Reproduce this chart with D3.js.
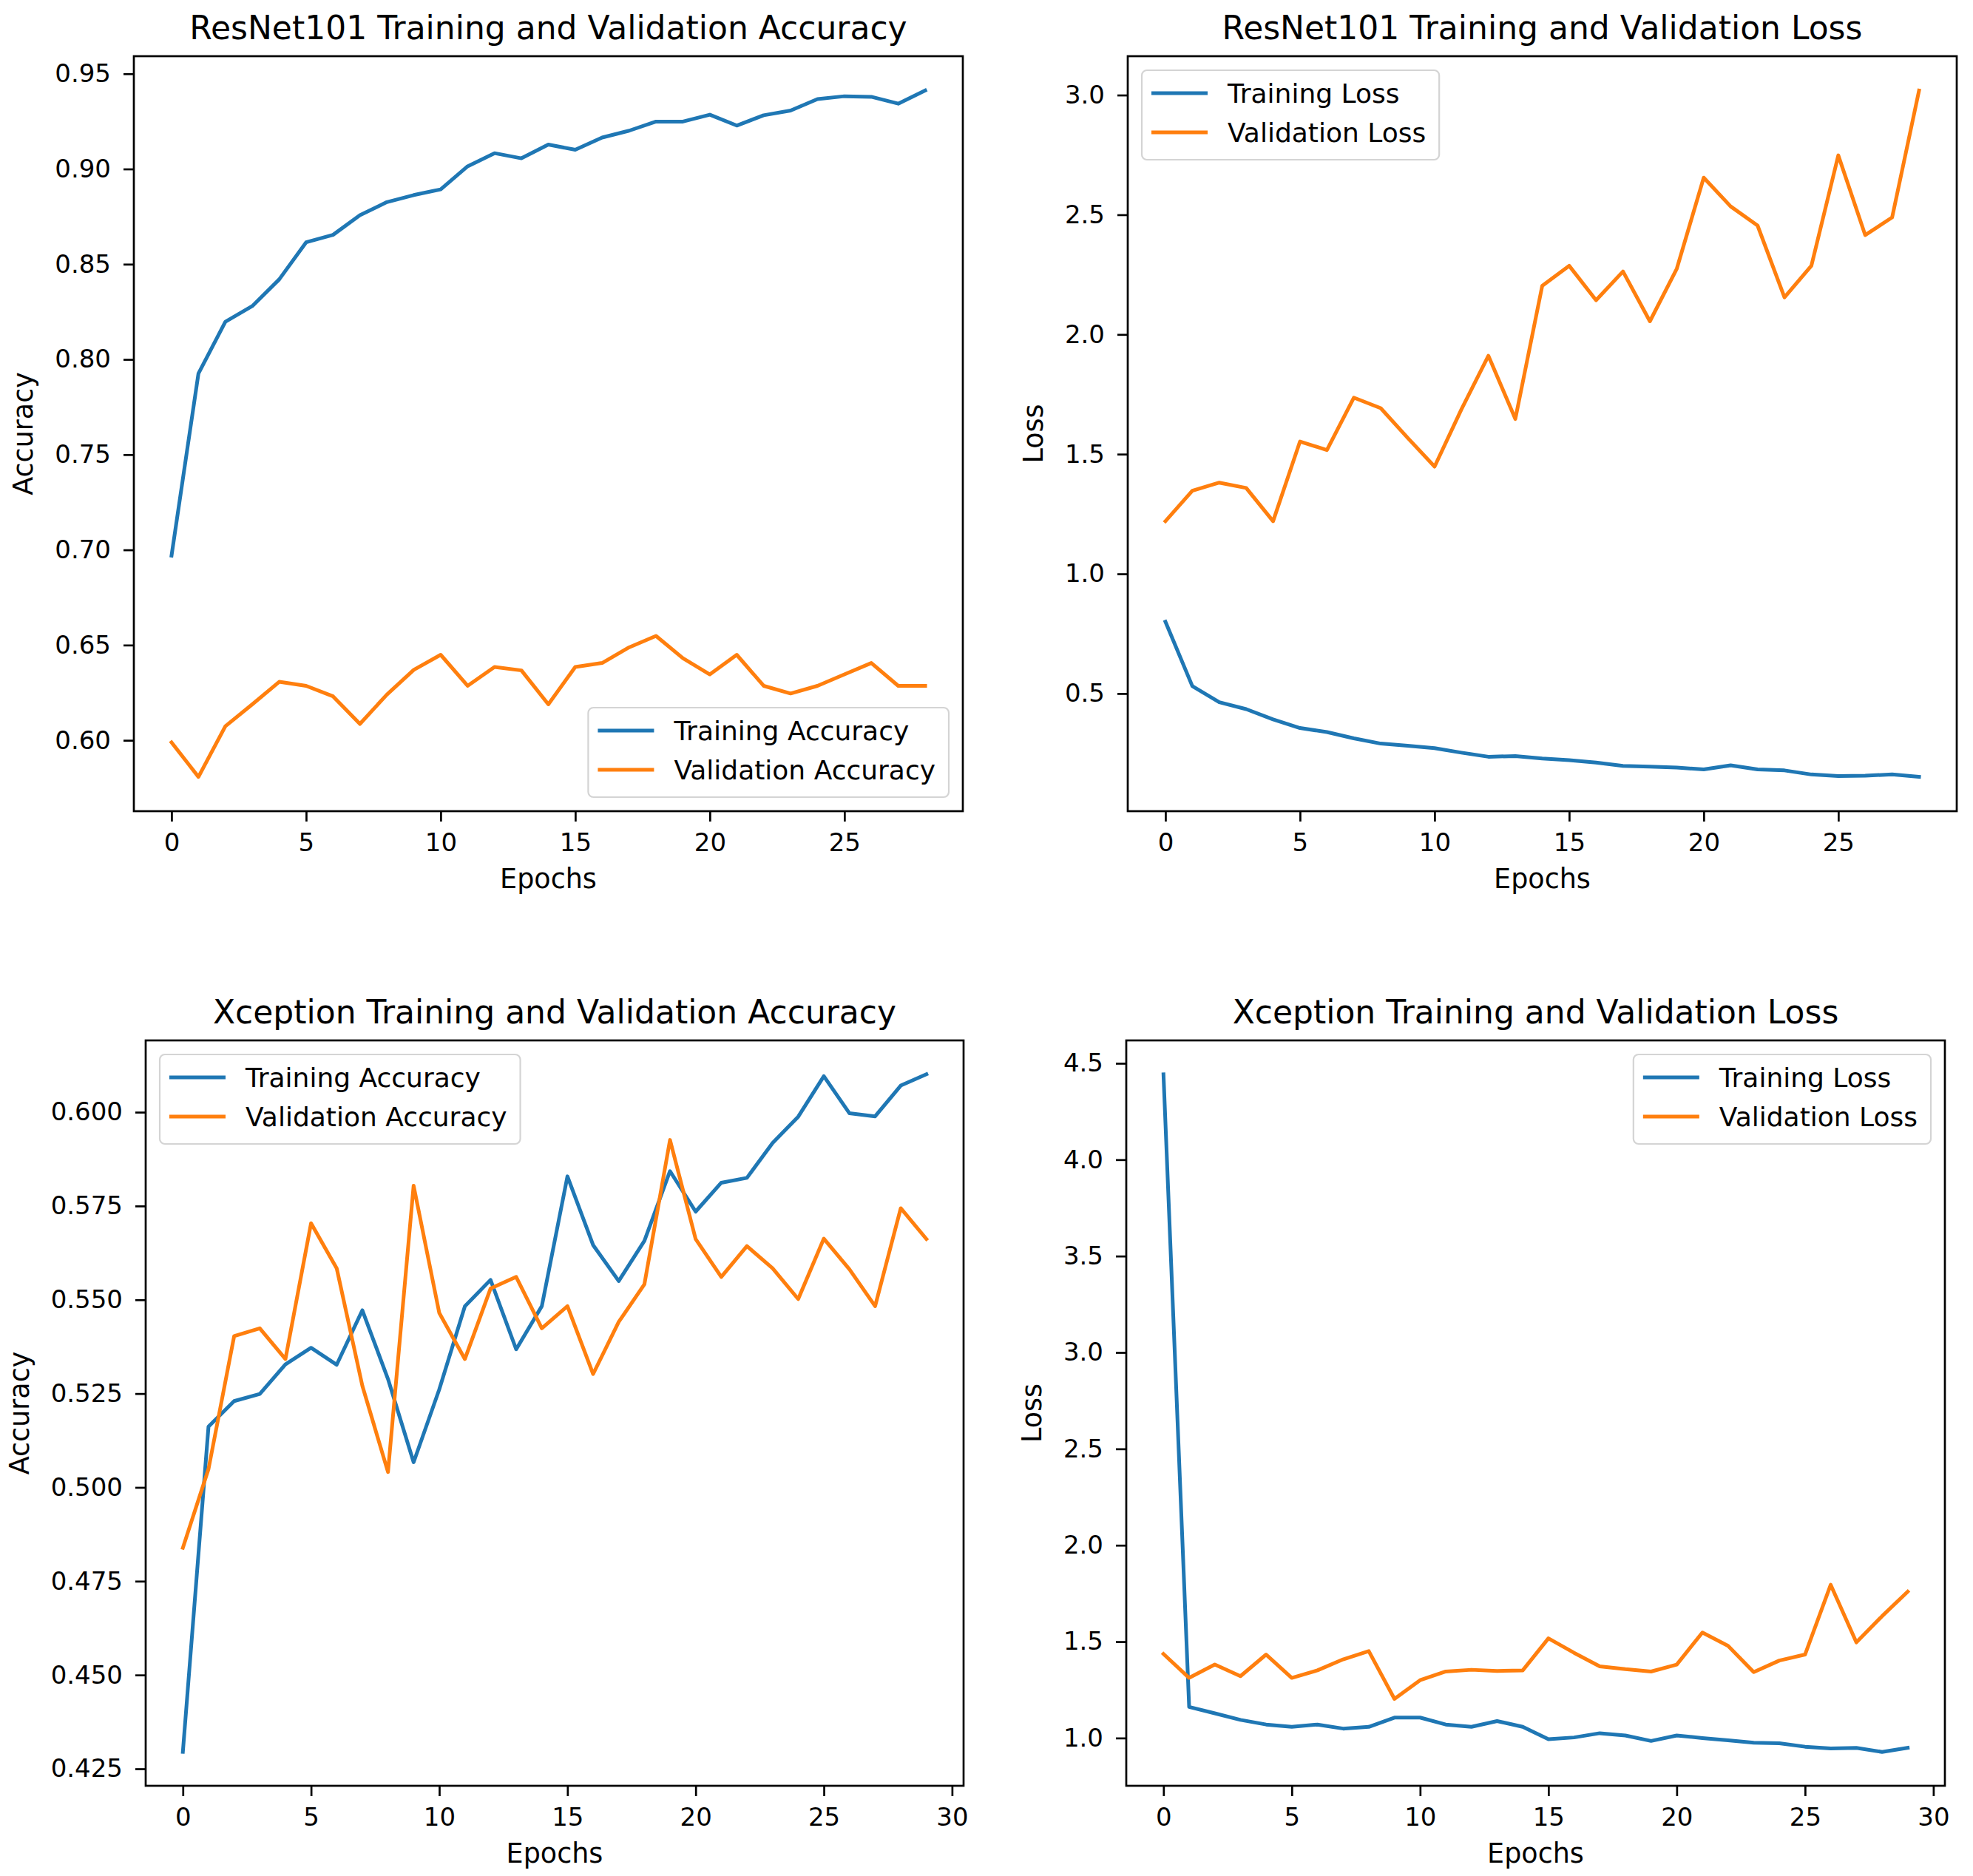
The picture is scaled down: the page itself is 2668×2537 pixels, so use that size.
<!DOCTYPE html>
<html>
<head>
<meta charset="UTF-8">
<title>ResNet101 / Xception training curves</title>
<style>
  body { margin: 0; background: #fff; }
  svg text { font-family: "DejaVu Sans", sans-serif; fill: #000; }
</style>
</head>
<body>
<script src="https://cdnjs.cloudflare.com/ajax/libs/d3/7.8.5/d3.min.js"></script>
<script>
// ---- data ----
var resnetEpochs = [0,1,2,3,4,5,6,7,8,9,10,11,12,13,14,15,16,17,18,19,20,21,22,23,24,25,26,27,28];
var resnetTrainAcc = [0.697,0.7926,0.8198,0.828,0.842,0.8615,0.8654,0.8757,0.8826,0.8863,0.8893,0.9014,0.9083,0.9056,0.9128,0.9101,0.9165,0.9201,0.9249,0.9249,0.9285,0.9228,0.9282,0.9307,0.9367,0.9382,0.9379,0.9343,0.9412];
var resnetValAcc = [0.5989,0.5808,0.6074,0.6189,0.6307,0.6286,0.6231,0.6086,0.624,0.637,0.6449,0.6286,0.6385,0.6367,0.6189,0.6385,0.6406,0.6488,0.6548,0.6431,0.6346,0.6449,0.6286,0.6246,0.6286,0.6346,0.6406,0.6286,0.6286];
var resnetTrainLoss = [0.80,0.531,0.464,0.435,0.392,0.356,0.339,0.313,0.291,0.282,0.272,0.253,0.236,0.239,0.229,0.222,0.212,0.198,0.195,0.191,0.183,0.200,0.183,0.179,0.162,0.155,0.157,0.162,0.152];
var resnetValLoss = [1.220,1.347,1.381,1.359,1.220,1.553,1.517,1.736,1.692,1.568,1.448,1.688,1.911,1.647,2.203,2.287,2.143,2.263,2.055,2.275,2.655,2.535,2.455,2.155,2.287,2.748,2.415,2.489,3.019];

var xceptionEpochs = [0,1,2,3,4,5,6,7,8,9,10,11,12,13,14,15,16,17,18,19,20,21,22,23,24,25,26,27,28,29];
var xceptionTrainAcc = [0.4295,0.5162,0.523,0.5249,0.5328,0.5372,0.5327,0.5472,0.5289,0.5067,0.5261,0.5483,0.5553,0.5368,0.5483,0.5829,0.5646,0.555,0.5657,0.5843,0.5735,0.5812,0.5825,0.5918,0.5988,0.6096,0.5997,0.5989,0.6071,0.6101];
var xceptionValAcc = [0.4839,0.5049,0.5403,0.5424,0.5342,0.5704,0.5584,0.5271,0.5041,0.5804,0.5465,0.5342,0.553,0.5561,0.5424,0.5483,0.5302,0.5441,0.5541,0.5926,0.5662,0.5561,0.5643,0.5584,0.5502,0.5663,0.5581,0.5483,0.5744,0.5662];
var xceptionTrainLoss = [4.443,1.161,1.128,1.094,1.070,1.058,1.070,1.049,1.058,1.106,1.106,1.070,1.058,1.088,1.058,0.994,1.003,1.025,1.013,0.985,1.013,1.0,0.988,0.976,0.973,0.955,0.946,0.949,0.928,0.949];
var xceptionValLoss = [1.436,1.312,1.381,1.321,1.433,1.312,1.351,1.408,1.451,1.203,1.300,1.345,1.354,1.348,1.351,1.517,1.442,1.372,1.357,1.345,1.381,1.547,1.478,1.342,1.402,1.433,1.795,1.496,1.632,1.759];

// tick labels
var resnetXTicks = [0,5,10,15,20,25];
var xceptionXTicks = [0,5,10,15,20,25,30];
var resnetAccTicks = [0.60,0.65,0.70,0.75,0.80,0.85,0.90,0.95];
var resnetLossTicks = [0.5,1.0,1.5,2.0,2.5,3.0];
var xceptionAccTicks = [0.425,0.450,0.475,0.500,0.525,0.550,0.575,0.600];
var xceptionLossTicks = [1.0,1.5,2.0,2.5,3.0,3.5,4.0,4.5];

var blue = "#1f77b4", orange = "#ff7f0e";

var width = 2668, height = 2537;
var svg = d3.select("body").append("svg")
  .attr("width", width).attr("height", height)
  .style("display", "block");

var panels = [
  { title: "ResNet101 Training and Validation Accuracy", ylabel: "Accuracy",
    epochs: resnetEpochs, train: resnetTrainAcc, val: resnetValAcc,
    names: ["Training Accuracy", "Validation Accuracy"],
    xTicks: resnetXTicks, yTicks: resnetAccTicks, fmt: ".2f", legend: "lower right",
    box: { left: 181, right: 1302, top: 76, bottom: 1097 } },
  { title: "ResNet101 Training and Validation Loss", ylabel: "Loss",
    epochs: resnetEpochs, train: resnetTrainLoss, val: resnetValLoss,
    names: ["Training Loss", "Validation Loss"],
    xTicks: resnetXTicks, yTicks: resnetLossTicks, fmt: ".1f", legend: "upper left",
    box: { left: 1525, right: 2646, top: 76, bottom: 1097 } },
  { title: "Xception Training and Validation Accuracy", ylabel: "Accuracy",
    epochs: xceptionEpochs, train: xceptionTrainAcc, val: xceptionValAcc,
    names: ["Training Accuracy", "Validation Accuracy"],
    xTicks: xceptionXTicks, yTicks: xceptionAccTicks, fmt: ".3f", legend: "upper left",
    box: { left: 197, right: 1303, top: 1407, bottom: 2415 } },
  { title: "Xception Training and Validation Loss", ylabel: "Loss",
    epochs: xceptionEpochs, train: xceptionTrainLoss, val: xceptionValLoss,
    names: ["Training Loss", "Validation Loss"],
    xTicks: xceptionXTicks, yTicks: xceptionLossTicks, fmt: ".1f", legend: "upper right",
    box: { left: 1523, right: 2630, top: 1407, bottom: 2415 } }
];

// matplotlib style 5% margins
function padded(values) {
  var lo = d3.min(values), hi = d3.max(values), m = (hi - lo) * 0.05;
  return [lo - m, hi + m];
}

function styleAxis(a, fontSize) {
  a.select(".domain").remove();
  a.attr("font-family", null).attr("font-size", null);
  a.selectAll(".tick line").attr("stroke", "#000").attr("stroke-width", 2.7);
  a.selectAll(".tick text").style("font-size", fontSize + "px");
}

panels.forEach(function(p) {
  var b = p.box;
  var g = svg.append("g");

  var x = d3.scaleLinear().domain(padded(p.epochs)).range([b.left, b.right]);
  var y = d3.scaleLinear().domain(padded(p.train.concat(p.val))).range([b.bottom, b.top]);

  // x axis
  g.append("g")
    .attr("transform", "translate(0," + b.bottom + ")")
    .call(d3.axisBottom(x).tickValues(p.xTicks).tickFormat(d3.format("d"))
      .tickSize(14).tickSizeOuter(0).tickPadding(16))
    .call(styleAxis, 34);

  // y axis
  var yAxisG = g.append("g")
    .attr("transform", "translate(" + b.left + ",0)")
    .call(d3.axisLeft(y).tickValues(p.yTicks).tickFormat(d3.format(p.fmt))
      .tickSize(14).tickSizeOuter(0).tickPadding(17))
    .call(styleAxis, 34);

  // lines
  var line = function(vals) {
    return d3.line().x(function(d, i) { return x(p.epochs[i]); }).y(function(d) { return y(d); })(vals);
  };
  g.append("path").attr("d", line(p.train)).attr("fill", "none")
    .attr("stroke", blue).attr("stroke-width", 5).attr("stroke-linejoin", "round").attr("stroke-linecap", "square");
  g.append("path").attr("d", line(p.val)).attr("fill", "none")
    .attr("stroke", orange).attr("stroke-width", 5).attr("stroke-linejoin", "round").attr("stroke-linecap", "square");

  // frame
  g.append("rect")
    .attr("x", b.left).attr("y", b.top)
    .attr("width", b.right - b.left).attr("height", b.bottom - b.top)
    .attr("fill", "none").attr("stroke", "#000").attr("stroke-width", 2.7);

  // title and labels
  g.append("text")
    .attr("x", (b.left + b.right) / 2).attr("y", b.top - 23)
    .attr("text-anchor", "middle").style("font-size", "44px")
    .text(p.title);

  g.append("text")
    .attr("x", (b.left + b.right) / 2).attr("y", b.bottom + 104)
    .attr("text-anchor", "middle").style("font-size", "36.5px")
    .text("Epochs");

  var yb = yAxisG.node().getBBox();
  var lx = b.left + yb.x - 30;
  g.append("text")
    .attr("transform", "translate(" + lx + "," + (b.top + b.bottom) / 2 + ") rotate(-90)")
    .attr("text-anchor", "middle").style("font-size", "36.5px")
    .text(p.ylabel);

  // legend
  var lg = g.append("g");
  var frame = lg.append("rect");
  var colors = [blue, orange];
  var texts = [];
  p.names.forEach(function(name, i) {
    var cy = 31 + i * 53;
    lg.append("line")
      .attr("x1", 13).attr("x2", 89).attr("y1", cy).attr("y2", cy)
      .attr("stroke", colors[i]).attr("stroke-width", 5);
    texts.push(lg.append("text")
      .attr("x", 116).attr("y", cy).attr("dy", "0.36em")
      .style("font-size", "36px")
      .text(name));
  });
  var tw = d3.max(texts, function(t) { return t.node().getComputedTextLength(); });
  var lw = 116 + tw + 18, lh = 121;
  frame.attr("width", lw).attr("height", lh).attr("rx", 7)
    .attr("fill", "#fff").attr("fill-opacity", 0.8)
    .attr("stroke", "#d4d4d4").attr("stroke-width", 2.2);

  var inset = 19, lx0, ly0;
  if (p.legend === "lower right") { lx0 = b.right - inset - lw; ly0 = b.bottom - inset - lh; }
  else if (p.legend === "upper right") { lx0 = b.right - inset - lw; ly0 = b.top + inset; }
  else { lx0 = b.left + inset; ly0 = b.top + inset; }
  lg.attr("transform", "translate(" + lx0 + "," + ly0 + ")");
});
</script>
</body>
</html>
